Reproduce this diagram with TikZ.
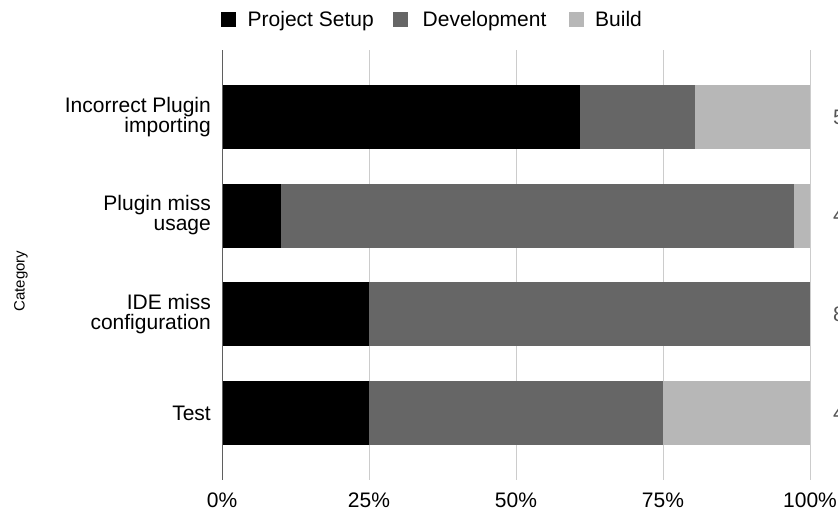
\documentclass[tikz,border=0pt]{standalone}
\usepackage{fontspec}
\setmainfont{Liberation Sans}
\usepackage{xcolor}
\definecolor{setupcol}{HTML}{000000}
\definecolor{devcol}{HTML}{666666}
\definecolor{buildcol}{HTML}{B7B7B7}
\definecolor{gridcol}{HTML}{CCCCCC}
\definecolor{axiscol}{HTML}{5F5F5F}
\definecolor{countcol}{HTML}{555555}
\tikzset{x=1pt, y=-1pt,
 catlabel/.style={anchor=east, align=right, inner sep=0pt,
   font=\fontsize{21}{20}\selectfont},
 ticklabel/.style={anchor=base, inner sep=0pt, font=\fontsize{21}{21}\selectfont},
 legendtext/.style={anchor=base west, inner sep=0pt, font=\fontsize{21}{21}\selectfont},
 legendbox/.style={minimum size=15pt, inner sep=0pt, anchor=north west},
 countlabel/.style={anchor=west, inner sep=0pt, text=countcol,
   font=\fontsize{21}{21}\selectfont},
 gridline/.style={draw=gridcol, line width=1pt},
 }

\begin{document}
\begin{tikzpicture}
        \clip (0,0) rectangle (838,512);
        \fill[white] (0,0) rectangle (838,512);
        % grid lines and axis
        \draw[gridline] (369,50) -- (369,480);
        \draw[gridline] (516,50) -- (516,480);
        \draw[gridline] (663,50) -- (663,480);
        \draw[gridline] (810,50) -- (810,480);
        % bars
        \fill[setupcol] (222,85) rectangle (579.5,149.3);
        \fill[devcol] (579.5,85) rectangle (695,149.3);
        \fill[buildcol] (695,85) rectangle (810,149.3);
        \fill[setupcol] (222,183.7) rectangle (280.7,247.8);
        \fill[devcol] (280.7,183.7) rectangle (794.3,247.8);
        \fill[buildcol] (794.3,183.7) rectangle (810,247.8);
        \fill[setupcol] (222,282.3) rectangle (369,346.4);
        \fill[devcol] (369,282.3) rectangle (810,346.4);
        \fill[setupcol] (222,381) rectangle (369,445);
        \fill[devcol] (369,381) rectangle (663,445);
        \fill[buildcol] (663,381) rectangle (810,445);
        \draw[axiscol, line width=1.3pt] (222.5,50) -- (222.5,480);
        % category labels
        \node[catlabel] (catA) at (211,117) {Incorrect Plugin\\importing};
        \node[catlabel] (catB) at (211,215.5) {Plugin miss\\usage};
        \node[catlabel] (catC) at (211,314.5) {IDE miss\\configuration};
        \node[catlabel] (catD) at (211,413) {Test};
        \node[rotate=90, inner sep=0pt, font=\fontsize{15}{15}\selectfont] (cattitle) at (21,281) {Category};
        % tick labels
        \node[ticklabel] (tick0) at (222,507) {0\%};
        \node[ticklabel] (tick25) at (369,507) {25\%};
        \node[ticklabel] (tick50) at (516,507) {50\%};
        \node[ticklabel] (tick75) at (663,507) {75\%};
        \node[ticklabel] (tick100) at (810,507) {100\%};
        % counts, cut at the right edge
        \node[countlabel] (cntA) at (833,117) {5};
        \node[countlabel] (cntB) at (833,215.5) {4};
        \node[countlabel] (cntC) at (833,314.5) {8};
        \node[countlabel] (cntD) at (833,413) {4};
        % legend
        \node[legendbox, fill=setupcol] (keysetup) at (221,12) {};
        \node[legendtext] (txtsetup) at (247.5,26.5) {Project Setup};
        \node[legendbox, fill=devcol] (keydev) at (393,12) {};
        \node[legendtext] (txtdev) at (422.5,26.5) {Development};
        \node[legendbox, fill=buildcol] (keybuild) at (569,12) {};
        \node[legendtext] (txtbuild) at (595,26.5) {Build};
    \end{tikzpicture}
\end{document}
